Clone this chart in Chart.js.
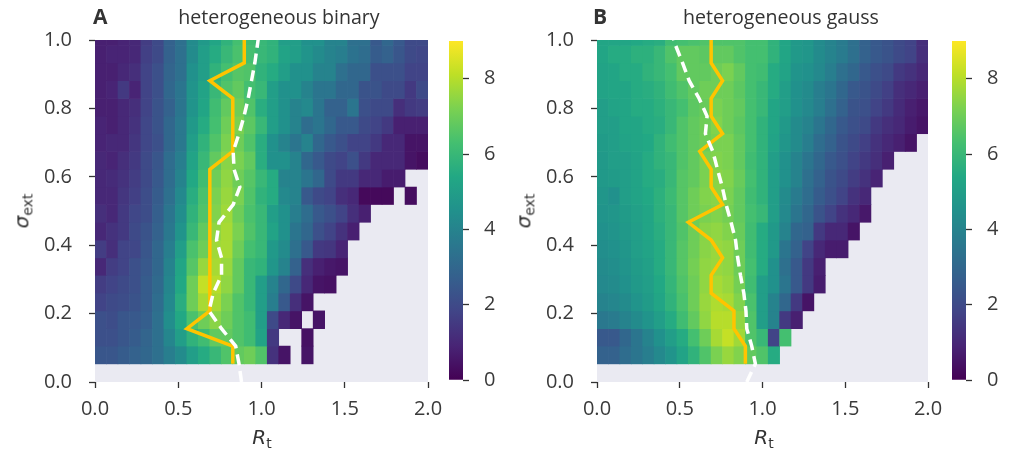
<!DOCTYPE html>
<html lang="en">
<head>
<meta charset="UTF-8">
<title>heterogeneous binary / heterogeneous gauss</title>
<script src="https://cdn.jsdelivr.net/npm/chart.js@4"></script>
<style>
    body { margin: 0; background: #fff; }
    #figura { position: relative; width: 1016px; height: 456px; overflow: hidden; font-family: "Open Sans", sans-serif; color: #333; }
    #figura canvas { position: absolute; top: 0; }
    .letra { position: absolute; top: 6px; font-size: 21px; font-weight: bold; line-height: 1; }
    .titulo { position: absolute; top: 7px; font-size: 19.6px; line-height: 1; white-space: nowrap; transform: translateX(-50%); }
    .rotulo { position: absolute; font-family: "DejaVu Sans", sans-serif; font-size: 20px; line-height: 1; white-space: nowrap; }
    .rotulo i { font-style: oblique; }
    .rotulo sub { font-size: 70%; vertical-align: -0.3em; }
    .rx { top: 427px; transform: translateX(-50%); }
    .ry { top: 211px; transform: translate(-50%, -50%) rotate(-90deg); }
</style>
</head>
<body>
<div id="figura">
    <canvas id="heatA" width="450" height="456" style="left:0px"></canvas>
    <canvas id="barraA" width="70" height="456" style="left:440px"></canvas>
    <canvas id="heatB" width="450" height="456" style="left:500px"></canvas>
    <canvas id="barraB" width="73" height="456" style="left:943px"></canvas>

    <div class="letra" style="left:93px">A</div>
    <div class="titulo" style="left:279px">heterogeneous binary</div>
    <div class="letra" style="left:593px">B</div>
    <div class="titulo" style="left:781px">heterogeneous gauss</div>

    <div class="rotulo ry" style="left:23px"><i>σ</i><sub>ext</sub></div>
    <div class="rotulo ry" style="left:525px"><i>σ</i><sub>ext</sub></div>
    <div class="rotulo rx" style="left:262px"><i>R</i><sub>t</sub></div>
    <div class="rotulo rx" style="left:764px"><i>R</i><sub>t</sub></div>
</div>

<script>
// grid: R cell edges (29 columns) and sigma cell edges (19 rows, top one runs past 1.0)
const rEdges = [0, 0.0690, 0.1379, 0.2069, 0.2759, 0.3448, 0.4138, 0.4828, 0.5517, 0.6207,
    0.6897, 0.7586, 0.8276, 0.8966, 0.9655, 1.0345, 1.1034, 1.1724, 1.2414, 1.3103,
    1.3793, 1.4483, 1.5172, 1.5862, 1.6552, 1.7241, 1.7931, 1.8621, 1.9310, 2.0];
const sigmaEdges = [0.053, 0.105, 0.156, 0.208, 0.260, 0.312, 0.363, 0.415, 0.467, 0.519,
    0.570, 0.622, 0.674, 0.726, 0.777, 0.829, 0.881, 0.933, 0.984, 1.036];

const rTicks = [0, 0.5, 1.0, 1.5, 2.0];
const sigmaTicks = [0, 0.2, 0.4, 0.6, 0.8, 1.0];
const colorTicks = [0, 2, 4, 6, 8];
const colorMin = 0;
const colorMax = 9;

// heatmap values, rows listed from the top (sigma ~1.0) down to sigma ~0.05, null = no data
const binaryRows = [
    [0.8,0.8,0.9,1.0,1.6,2.0,2.8,3.3, 4.3,4.8,5.3,5.8,6.3,6.2,6.0, 5.8,5.0,5.0,4.5,4.5,4.0,4.0,3.3,3.3,2.5,3.0,2.5,2.0,2.0],
    [0.8,0.9,0.9,1.0,1.7,2.0,2.8,3.3, 4.3,5.0,5.5,6.0,6.4,6.3,6.0, 5.8,5.2,5.0,4.6,4.3,4.0,3.8,3.4,3.2,2.6,2.8,2.4,2.0,1.9],
    [0.8,0.8,1.0,1.2,1.8,2.2,2.9,3.3, 4.5,5.0,5.8,6.3,6.6,6.5,5.8, 5.5,5.0,4.5,4.5,4.0,4.0,3.3,3.0,3.0,2.2,2.2,2.2,1.8,1.8],
    [0.8,0.9,1.5,0.9,1.8,2.2,3.0,3.5, 4.6,5.2,6.0,6.5,6.8,6.3,6.0, 5.0,4.5,4.5,4.0,3.5,3.5,3.0,3.0,2.3,2.3,2.0,2.0,1.5,2.0],
    [0.8,0.8,1.0,1.2,1.8,2.3,2.8,3.5, 4.6,5.3,6.2,6.8,7.0,6.5,5.6, 5.0,4.5,4.0,4.2,3.5,2.8,2.8,3.5,2.2,2.0,2.0,1.2,1.5,1.6],
    [0.9,0.8,1.0,1.3,1.9,2.3,3.0,3.6, 4.8,5.5,6.3,7.0,7.2,6.7,6.0, 5.0,4.5,4.0,3.2,3.5,3.0,2.5,2.5,2.0,1.8,1.5,0.8,0.8,0.8],
    [0.9,1.0,1.0,1.4,1.9,2.2,3.0,3.6, 5.0,5.8,6.5,7.2,7.0,6.5,5.6, 4.5,4.0,3.5,4.0,3.0,2.5,2.2,1.8,1.8,1.5,1.0,1.0,0.5,0.5],
    [1.0,0.9,1.2,1.5,2.0,2.4,3.2,3.8, 5.2,6.0,6.8,7.4,7.2,6.8,5.6, 4.5,4.5,4.0,3.0,2.5,2.0,1.8,2.2,1.5,1.0,1.0,1.0,0.5,0.3],
    [1.0,1.1,1.3,1.6,2.0,2.5,3.2,4.0, 5.4,6.2,7.0,7.5,7.0,6.6,6.0, 5.5,4.0,4.0,3.5,3.0,2.0,1.5,1.5,1.0,1.0,0.7,0.7,null,null],
    [1.0,1.0,1.4,1.7,2.1,2.6,3.3,4.2, 5.6,6.4,7.2,7.6,7.2,6.5,5.8, 5.5,4.2,4.0,2.5,2.0,1.8,1.2,1.0,0.2,0.2,0.2,null,0.3,null],
    [1.2,1.0,1.5,1.9,2.1,2.7,3.5,4.4, 5.8,6.5,7.3,7.7,7.0,6.4,6.0, 5.0,4.5,3.8,3.2,2.5,2.2,1.8,1.2,0.8,null,null,null,null,null],
    [1.0,1.3,1.5,2.0,2.3,2.8,3.6,4.6, 6.0,6.8,7.5,7.8,7.2,6.5,6.0, 5.2,4.5,3.5,3.0,2.2,1.8,1.3,0.8,null,null,null,null,null,null],
    [1.6,1.2,1.8,1.9,2.4,3.0,3.8,5.0, 6.4,7.0,7.7,7.8,7.0,6.3,6.0, 4.8,4.3,3.3,2.5,1.5,1.4,0.9,null,null,null,null,null,null,null],
    [1.0,1.6,1.8,2.2,2.5,3.0,4.0,5.3, 6.6,7.6,7.8,7.6,6.8,6.0,5.8, 4.7,4.0,2.8,1.2,0.8,0.6,0.5,null,null,null,null,null,null,null],
    [1.6,1.8,2.0,2.2,2.6,3.1,4.1,5.4, 7.0,8.2,8.0,7.5,6.8,6.0,5.0, 4.0,3.0,2.0,1.0,0.5,0.4,null,null,null,null,null,null,null,null],
    [1.8,2.0,2.1,2.3,2.6,3.2,4.2,5.6, 7.0,7.8,7.8,7.2,6.5,6.0,5.0, 3.8,2.5,1.2,0.5,null,null,null,null,null,null,null,null,null,null],
    [2.2,2.1,2.4,2.5,2.7,3.3,4.4,5.4, 6.4,7.0,7.4,7.0,6.5,6.2,5.0, 2.0,1.0,0.5,null,0.5,null,null,null,null,null,null,null,null,null],
    [2.2,2.2,2.4,2.6,2.9,3.3,4.1,5.0, 5.8,6.2,6.8,6.8,6.5,6.2,5.2, 1.5,null,null,0.4,null,null,null,null,null,null,null,null,null,null],
    [2.4,2.4,2.6,2.8,3.0,3.3,3.8,4.3, 5.0,5.5,6.0,6.5,6.8,7.0,6.5, 1.3,0.5,null,0.5,null,null,null,null,null,null,null,null,null,null]
];

const gaussRows = [
    [5.3,5.3,5.3,5.4,5.5,5.6,6.2,6.3,6.4,6.5,6.5,6.5,6.5,6.3, 6.3,5.8,5.3,4.8,4.7,4.3,4.0,3.7,3.3,2.8,2.5,2.3,2.0,1.8,1.2],
    [5.3,5.5,5.5,5.7,5.7,6.0,6.5,6.8,6.8,6.7,6.8,6.8,6.5,6.3, 6.3,5.8,5.3,4.8,4.7,4.3,4.0,3.7,3.3,2.8,2.5,2.3,2.0,1.8,1.2],
    [5.2,5.3,5.5,5.5,5.8,6.0,6.3,6.8,6.8,6.8,7.0,7.2,6.8,6.3, 6.2,5.5,5.2,4.6,4.5,4.2,3.8,3.3,3.0,2.5,2.2,2.0,1.5,1.3,1.0],
    [5.2,5.3,5.3,5.5,5.6,5.8,6.2,6.5,6.8,7.0,7.0,7.0,6.7,6.3, 6.0,5.5,5.0,4.5,4.3,3.8,3.5,3.0,2.5,2.3,2.0,1.7,1.2,1.0,0.8],
    [5.0,5.2,5.3,5.5,5.5,5.7,6.0,6.3,6.7,6.9,7.2,7.0,6.8,6.3, 6.0,5.3,5.0,4.5,4.2,3.8,3.3,2.8,2.3,2.2,1.8,1.5,1.1,0.8,0.6],
    [5.0,5.0,5.3,5.3,5.5,5.6,6.0,6.5,6.8,7.0,7.3,7.0,6.7,6.3, 5.8,5.3,4.8,4.3,4.0,3.5,3.0,2.5,2.2,2.0,1.5,1.2,1.0,0.7,0.5],
    [4.9,5.0,5.2,5.3,5.4,5.8,6.2,6.5,6.8,7.0,7.2,7.2,6.8,6.3, 5.8,5.2,4.7,4.3,3.8,3.2,2.8,2.3,2.0,1.7,1.3,1.0,0.8,0.5,null],
    [4.8,5.0,5.0,5.2,5.5,5.8,6.0,6.5,6.8,7.2,7.3,7.2,6.8,6.2, 5.8,5.0,4.5,4.0,3.5,3.0,2.5,2.2,1.8,1.5,1.2,0.8,null,null,null],
    [4.8,4.9,5.0,5.2,5.5,5.6,6.0,6.6,6.8,7.2,7.4,7.3,6.9,6.3, 5.8,5.0,4.5,4.0,3.3,2.8,2.3,2.0,1.6,1.3,0.9,null,null,null,null],
    [4.7,4.5,5.0,5.2,5.4,5.7,6.1,6.6,7.0,7.3,7.4,7.2,6.8,6.2, 5.8,5.0,4.3,3.7,3.2,2.6,2.2,1.8,1.3,1.0,null,null,null,null,null],
    [4.6,4.7,4.9,5.1,5.3,5.7,6.0,6.6,7.0,7.2,7.3,7.1,6.8,6.3, 6.0,5.0,4.2,3.5,3.0,2.3,1.8,1.3,1.0,0.6,null,null,null,null,null],
    [4.5,4.6,4.8,5.0,5.3,5.6,6.0,6.5,7.0,7.4,7.5,7.3,6.9,6.2, 5.5,4.8,4.0,3.0,2.8,1.5,1.0,1.0,0.5,null,null,null,null,null,null],
    [4.4,4.5,4.7,5.0,5.2,5.5,6.0,6.6,7.0,7.4,7.6,7.5,7.0,6.2, 5.5,4.8,3.5,2.8,1.8,1.0,0.7,0.7,null,null,null,null,null,null,null],
    [4.3,4.4,4.6,4.9,5.1,5.5,6.0,6.6,7.1,7.5,7.6,7.5,7.0,6.3, 5.5,4.5,3.3,2.5,1.5,0.8,null,null,null,null,null,null,null,null,null],
    [4.2,4.3,4.5,4.8,5.0,5.4,5.9,6.5,7.0,7.5,7.8,7.6,7.1,6.2, 5.0,4.5,3.5,2.5,1.5,0.7,null,null,null,null,null,null,null,null,null],
    [4.0,4.1,4.3,4.6,4.9,5.3,5.8,6.4,7.0,7.6,7.9,7.8,7.3,6.4, 5.0,4.0,3.0,1.5,0.5,null,null,null,null,null,null,null,null,null,null],
    [3.6,3.7,4.0,4.3,4.6,5.0,5.5,6.2,6.8,7.5,8.0,8.0,7.5,6.5, 5.0,4.0,1.5,0.8,null,null,null,null,null,null,null,null,null,null,null],
    [2.5,2.5,3.0,3.5,4.0,4.5,5.0,5.5,6.3,7.0,7.8,8.2,7.7,6.5, 6.0,1.8,6.3,null,null,null,null,null,null,null,null,null,null,null,null],
    [2.8,2.8,3.2,3.5,3.8,4.2,4.6,5.2,5.8,6.5,7.2,7.6,7.3,6.8, 6.5,5.5,null,null,null,null,null,null,null,null,null,null,null,null,null]
];

// solid yellow line: R of the peak at each sigma edge (bottom to top)
const binaryPeakR = [0.8276, 0.8276, 0.5517, 0.6897, 0.6897, 0.6897, 0.6897, 0.6897, 0.6897, 0.6897,
    0.6897, 0.6897, 0.8276, 0.8276, 0.8276, 0.8276, 0.6897, 0.8966, 0.8966, 0.8966];
const gaussPeakR = [0.8966, 0.8966, 0.8276, 0.8276, 0.6897, 0.6897, 0.7586, 0.6897, 0.5517, 0.7586,
    0.6897, 0.6897, 0.6207, 0.7586, 0.6897, 0.6897, 0.7586, 0.6897, 0.6897, 0.6897];

// dashed white line
const dashSigma = [0.0, 0.053, 0.105, 0.156, 0.208, 0.260, 0.312, 0.363, 0.415, 0.467, 0.519,
    0.570, 0.622, 0.674, 0.726, 0.777, 0.829, 0.881, 0.933, 0.984, 1.036];
const binaryDashR = [0.88, 0.865, 0.845, 0.76, 0.685, 0.71, 0.76, 0.76, 0.73, 0.745, 0.83,
    0.87, 0.835, 0.83, 0.865, 0.895, 0.92, 0.94, 0.96, 0.975, 0.99];
const gaussDashR = [0.905, 0.957, 0.935, 0.905, 0.90, 0.887, 0.867, 0.85, 0.837, 0.81, 0.78,
    0.757, 0.728, 0.70, 0.655, 0.665, 0.617, 0.557, 0.517, 0.475, 0.44];

const viridisStops = ['#440154', '#482475', '#414487', '#355f8d', '#2a788e', '#21918c',
    '#22a884', '#44bf70', '#7ad151', '#bddf26', '#fde725'];
const tickFont = { family: 'Open Sans', size: 20 };

function hexRgb(h) {
    return [parseInt(h.slice(1, 3), 16), parseInt(h.slice(3, 5), 16), parseInt(h.slice(5, 7), 16)];
}

function viridis(t) {
    t = Math.min(1, Math.max(0, t));
    const p = t * 10;
    const i = Math.min(9, Math.floor(p));
    const f = p - i;
    const a = hexRgb(viridisStops[i]);
    const b = hexRgb(viridisStops[i + 1]);
    const c = a.map((v, j) => Math.round(v + (b[j] - v) * f));
    return `rgb(${c[0]},${c[1]},${c[2]})`;
}

// gray axes face behind the cells
const fundoCinza = {
    id: 'fundoCinza',
    beforeDatasetsDraw(chart) {
        const { ctx, chartArea: a } = chart;
        ctx.save();
        ctx.fillStyle = '#eaeaf2';
        ctx.fillRect(a.left, a.top, a.width, a.height);
        ctx.restore();
    }
};

function montarDatasets(rows, peakR, dashR) {
    const sets = [];
    rows.forEach(function (row, t) {
        const k = rows.length - 1 - t;
        const pontos = [];
        const cores = [];
        row.forEach(function (v, c) {
            if (v === null) return;
            pontos.push({ x: (rEdges[c] + rEdges[c + 1]) / 2, y: [sigmaEdges[k], sigmaEdges[k + 1]] });
            cores.push(viridis((v - colorMin) / (colorMax - colorMin)));
        });
        sets.push({
            type: 'bar',
            data: pontos,
            backgroundColor: cores,
            borderWidth: 0,
            grouped: false,
            barPercentage: 1,
            categoryPercentage: 1,
            inflateAmount: 'auto',
            order: 3
        });
    });

    sets.push({
        type: 'line',
        data: peakR.map((r, i) => ({ x: r, y: sigmaEdges[i] })),
        borderColor: '#ffc400',
        borderWidth: 3.5,
        borderJoinStyle: 'miter',
        pointRadius: 0,
        fill: false,
        tension: 0,
        clip: 0,
        order: 2
    });
    sets.push({
        type: 'line',
        data: dashR.map((r, i) => ({ x: r, y: dashSigma[i] })),
        borderColor: '#ffffff',
        borderWidth: 3.5,
        borderDash: [11, 6],
        pointRadius: 0,
        fill: false,
        tension: 0,
        clip: 0,
        order: 1
    });
    return sets;
}

function desenharHeatmap(id, rows, peakR, dashR, eixoY) {
    new Chart(document.getElementById(id), {
        type: 'bar',
        data: { datasets: montarDatasets(rows, peakR, dashR) },
        plugins: [fundoCinza],
        options: {
            responsive: false,
            animation: false,
            events: [],
            layout: { autoPadding: false, padding: { top: 40, right: 22, bottom: 0, left: 0 } },
            plugins: { legend: { display: false }, tooltip: { enabled: false } },
            scales: {
                x: {
                    type: 'linear', min: 0, max: 2, offset: false,
                    afterBuildTicks: (s) => { s.ticks = rTicks.map(v => ({ value: v })); },
                    afterFit: (s) => { s.height = 74; s.paddingLeft = 0; s.paddingRight = 0; },
                    grid: { drawOnChartArea: false, offset: false, tickLength: 6, tickColor: '#333', tickWidth: 1.3 },
                    border: { display: false },
                    ticks: { color: '#3a3a3a', font: tickFont, padding: 9, maxRotation: 0, callback: v => v.toFixed(1) }
                },
                y: {
                    type: 'linear', min: 0, max: 1,
                    afterBuildTicks: (s) => { s.ticks = sigmaTicks.map(v => ({ value: v })); },
                    afterFit: (s) => { s.width = eixoY; s.paddingTop = 0; s.paddingBottom = 0; },
                    grid: { drawOnChartArea: false, tickLength: 6, tickColor: '#333', tickWidth: 1.3 },
                    border: { display: false },
                    ticks: { color: '#3a3a3a', font: tickFont, padding: 17, callback: v => v.toFixed(1) }
                }
            }
        }
    });
}

function desenharBarra(id, largura) {
    new Chart(document.getElementById(id), {
        type: 'bar',
        data: {
            labels: [''],
            datasets: [{
                data: [[colorMin, colorMax]],
                backgroundColor: function (context) {
                    const area = context.chart.chartArea;
                    if (!area) return viridisStops[0];
                    const g = context.chart.ctx.createLinearGradient(0, area.bottom, 0, area.top);
                    viridisStops.forEach((c, i) => g.addColorStop(i / 10, c));
                    return g;
                },
                borderWidth: 0,
                barPercentage: 1,
                categoryPercentage: 1
            }]
        },
        options: {
            responsive: false,
            animation: false,
            events: [],
            layout: { autoPadding: false, padding: { top: 41, right: 0, bottom: 76, left: 9 } },
            plugins: { legend: { display: false }, tooltip: { enabled: false } },
            scales: {
                x: { display: false },
                y: {
                    position: 'right', min: colorMin, max: colorMax,
                    afterBuildTicks: (s) => { s.ticks = colorTicks.map(v => ({ value: v })); },
                    afterFit: (s) => { s.width = largura; s.paddingTop = 0; s.paddingBottom = 0; },
                    grid: { drawOnChartArea: false, tickLength: 6, tickColor: '#333', tickWidth: 1.3 },
                    border: { display: false },
                    ticks: { color: '#3a3a3a', font: tickFont, padding: 15 }
                }
            }
        }
    });
}

desenharHeatmap('heatA', binaryRows, binaryPeakR, binaryDashR, 95);
desenharHeatmap('heatB', gaussRows, gaussPeakR, gaussDashR, 97);
desenharBarra('barraA', 47);
desenharBarra('barraB', 50);
</script>
</body>
</html>
